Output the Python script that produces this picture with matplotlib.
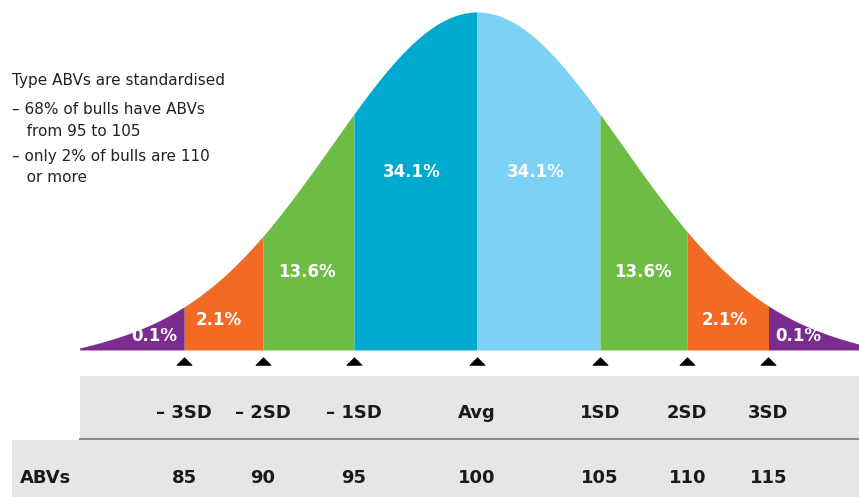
import numpy as np
import matplotlib
matplotlib.use("Agg")
import matplotlib.pyplot as plt
from matplotlib.patches import Rectangle

# segment boundaries along the curve (in SD-like units)
cuts = [-2.38, -1.74, -1.0, 0.0, 1.0, 1.71, 2.37]
curve_left, curve_right = -3.23, 3.11
sd_labels = ["\u2013 3SD", "\u2013 2SD", "\u2013 1SD", "Avg", "1SD", "2SD", "3SD"]
abv_values = [85, 90, 95, 100, 105, 110, 115]
pct_labels = ["0.1%", "2.1%", "13.6%", "34.1%", "34.1%", "13.6%", "2.1%", "0.1%"]
seg_colors = ["#7B2C8F", "#F26A23", "#6DBD45", "#00AACF",
              "#7CD1F5", "#6DBD45", "#F26A23", "#7B2C8F"]
label_x = [-2.62, -2.10, -1.38, -0.53, 0.48, 1.35, 2.01, 2.61]
label_y = [0.04, 0.09, 0.23, 0.527, 0.527, 0.23, 0.09, 0.04]
notes = ["Type ABVs are standardised",
         "\u2013 68% of bulls have ABVs",
         "   from 95 to 105",
         "\u2013 only 2% of bulls are 110",
         "   or more"]

sigma = 1.18

def bell(x):
    g = np.exp(-x ** 2 / (2 * sigma ** 2))
    # let the tails run down to the baseline at the ends
    edge = np.exp(-3.3 ** 2 / (2 * sigma ** 2))
    return np.clip(g - edge * (np.abs(x) / 3.3) ** 6, 0, None)

fig = plt.figure(figsize=(8.59, 4.97), dpi=100)
ax = fig.add_axes([0, 0, 1, 1])
ax.set_xlim(-3.878, 3.106)
ax.set_ylim(-0.435, 1.0355)
ax.axis("off")

edges = [curve_left] + cuts + [curve_right]
for i in range(len(edges) - 1):
    xs = np.linspace(edges[i], edges[i + 1], 200)
    ax.fill_between(xs, 0, bell(xs), color=seg_colors[i], linewidth=0)

for x, y, t in zip(label_x, label_y, pct_labels):
    ax.text(x, y, t, color="white", fontsize=12, fontweight="bold",
            ha="center", va="center")

# markers under the curve
tri = [(-1, -0.5), (1, -0.5), (0, 0.5), (-1, -0.5)]
ax.plot(cuts, [-0.033] * len(cuts), linestyle="none", marker=tri,
        markersize=11, markerfacecolor="black", markeredgecolor="black",
        markeredgewidth=0.5)

# table bands
ax.add_patch(Rectangle((curve_left, -0.262), 7, 0.185, color="#E6E6E8", lw=0))
ax.add_patch(Rectangle((-3.78, -0.44), 7, 0.174, color="#E6E6E8", lw=0))
ax.plot([curve_left, 3.2], [-0.263, -0.263], color="#8A8A8A", lw=1.5)

for x, s, v in zip(cuts, sd_labels, abv_values):
    ax.text(x, -0.186, s, fontsize=13, fontweight="bold", color="#1A1A1A",
            ha="center", va="center")
    ax.text(x, -0.379, str(v), fontsize=13, fontweight="bold", color="#1A1A1A",
            ha="center", va="center")
ax.text(-3.72, -0.379, "ABVs", fontsize=13, fontweight="bold", color="#1A1A1A",
        ha="left", va="center")

note_y = [80, 110, 131, 157, 178]
for t, py in zip(notes, note_y):
    ax.text(12 / 859, 1 - py / 497, t, transform=ax.transAxes, fontsize=11,
            color="#222222", ha="left", va="center")

fig.savefig("out.png", dpi=100)
